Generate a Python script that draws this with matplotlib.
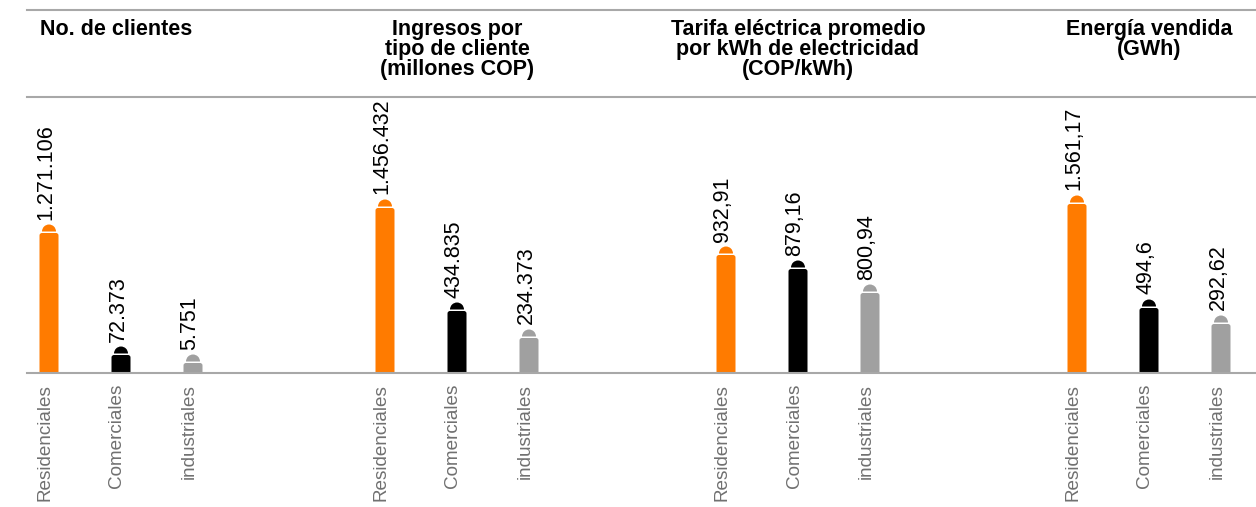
import matplotlib.pyplot as plt
from matplotlib.patches import Wedge, FancyBboxPatch
from matplotlib.lines import Line2D

plt.rcParams['font.family'] = ['Liberation Sans', 'DejaVu Sans']

# --- data ---
titles = [
    "No. de clientes",
    "Ingresos por\ntipo de cliente\n(millones COP)",
    "Tarifa eléctrica promedio\npor kWh de electricidad\n(COP/kWh)",
    "Energía vendida\n(GWh)",
]
categories = ["Residenciales", "Comerciales", "industriales"]
value_labels = [
    ["1.271.106", "72.373", "5.751"],
    ["1.456.432", "434.835", "234.373"],
    ["932,91", "879,16", "800,94"],
    ["1.561,17", "494,6", "292,62"],
]
# drawn bar lengths (the chart does not scale bars to the values)
bar_heights = [
    [140, 18, 10],
    [165, 62, 35],
    [118, 104, 80],
    [169, 65, 49],
]
colors = ["#ff7b00", "#000000", "#a0a0a0"]

# --- layout (pixels) ---
W, H = 1256, 507
baseline_y = 373
header_line_y = 97
top_line_y = 10
left_px = 27
group_start = [49, 385, 726, 1077]
step = 72
bar_w = 19
dome_r = 7
label_shift = 4   # category labels sit a little left of the bar centres
line_color = "#a8a8a8"

fig = plt.figure(figsize=(W / 100, H / 100), dpi=100)
ax = fig.add_axes([left_px / W, (H - baseline_y) / H,
                   (W - left_px) / W, (baseline_y - header_line_y) / H])
ax.set_xlim(left_px, W)
ax.set_ylim(0, baseline_y - header_line_y)

tick_x, tick_lab = [], []
for g in range(4):
    xs = [group_start[g] + i * step for i in range(3)]
    bars = ax.bar(xs, bar_heights[g], width=bar_w, color=colors, linewidth=0)
    for rect, c, lab in zip(bars, colors, value_labels[g]):
        rect.set_visible(False)
        x0, h = rect.get_x(), rect.get_height()
        ax.add_patch(FancyBboxPatch((x0, -4), bar_w, h + 4,
                                    boxstyle="round,pad=0,rounding_size=2.5",
                                    fc=c, ec="none"))
        cx = x0 + bar_w / 2
        ax.add_patch(Wedge((cx, h + 1.5), dome_r, 0, 180, fc=c, ec="none"))
        ax.text(cx - 3, h + 1.5 + dome_r + 5, lab, rotation=90, ha="center",
                va="bottom", fontsize=15.5, color="black")
    tick_x += [x - label_shift for x in xs]
    tick_lab += categories
    if g == 0:
        ax.text(40, baseline_y - 19, titles[g], ha="left", va="top",
                fontsize=15.5, fontweight="bold", linespacing=0.95, clip_on=False)
    else:
        ax.text(xs[1], baseline_y - 19, titles[g], ha="center", va="top",
                fontsize=15.5, fontweight="bold", linespacing=0.95, clip_on=False)

ax.set_xticks(tick_x, tick_lab, rotation=90, color="#707070", fontsize=13.6)
ax.tick_params(axis="x", length=0, pad=8)
ax.set_yticks([])
for s in ["left", "right"]:
    ax.spines[s].set_visible(False)
for s in ["top", "bottom"]:
    ax.spines[s].set_color(line_color)
    ax.spines[s].set_linewidth(1.5)
ax.spines["bottom"].set_zorder(5)

fig.add_artist(Line2D([left_px / W, 1], [1 - top_line_y / H] * 2,
                      color=line_color, linewidth=1.5))

fig.savefig("out.png", dpi=100, facecolor="white")
